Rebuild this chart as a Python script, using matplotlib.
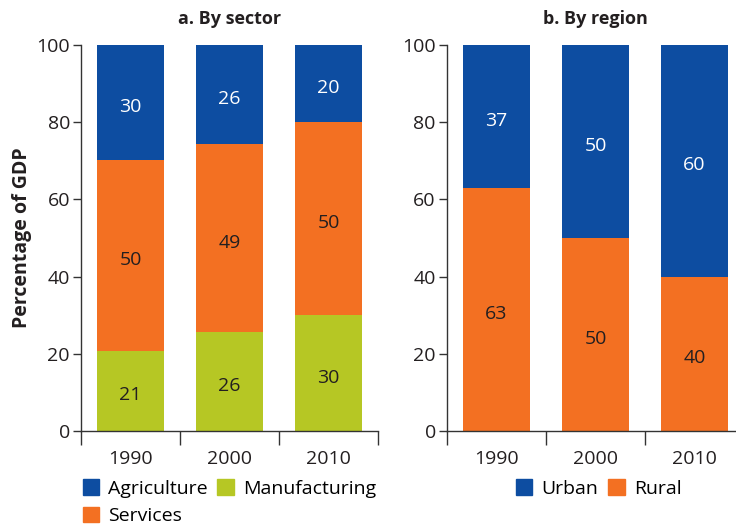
import matplotlib
matplotlib.use("Agg")
import matplotlib.pyplot as plt
import numpy as np
from matplotlib.patches import Patch

plt.rcParams['font.family'] = ['Open Sans', 'DejaVu Sans']

years = ['1990', '2000', '2010']

# a. By sector (percentage of GDP)
manufacturing = [21, 26, 30]
services = [50, 49, 50]
agriculture = [30, 26, 20]

# b. By region
rural = [63, 50, 40]
urban = [37, 50, 60]

BLUE = '#0D4DA1'
ORANGE = '#F37022'
GREEN = '#B6C724'
DARK = '#231F20'
FS = 14


def style_axes(ax, title):
    x = np.arange(len(years))
    ax.set_xlim(-0.5, len(years) - 0.5)
    ax.set_ylim(0, 100)
    ax.set_yticks([0, 20, 40, 60, 80, 100])
    ax.tick_params(axis='y', length=6, width=1, color='#333333', labelsize=FS,
                   labelcolor=DARK, pad=2)
    ax.set_xticks(x)
    ax.set_xticklabels(years)
    ax.set_xticks(np.arange(len(years) + 1) - 0.5, minor=True)
    ax.tick_params(axis='x', which='major', length=0, labelsize=FS, labelcolor=DARK, pad=14)
    ax.tick_params(axis='x', which='minor', length=10, width=1, color='#333333')
    for s in ['top', 'right']:
        ax.spines[s].set_visible(False)
    for s in ['left', 'bottom']:
        ax.spines[s].set_color('#333333')
        ax.spines[s].set_linewidth(1)
    ax.set_title(title, fontsize=13, fontweight='bold', color=DARK, pad=15)


def draw_stack(ax, series, colors, text_colors, w=0.68):
    # bars are drawn as shares of the total, labels show the published values
    data = np.array(series, dtype=float)
    shares = data / data.sum(axis=0) * 100
    bottom = np.zeros(data.shape[1])
    x = np.arange(data.shape[1])
    for vals, sh, c, tc in zip(data, shares, colors, text_colors):
        ax.bar(x, sh, w, bottom=bottom, color=c, zorder=2)
        for i in x:
            ax.text(i, bottom[i] + sh[i] / 2 - 1.2, f'{vals[i]:.0f}', ha='center',
                    va='center', fontsize=FS, color=tc)
        bottom = bottom + sh


fig = plt.figure(figsize=(7.36, 5.29), dpi=100)
ax1 = fig.add_axes([0.1101, 0.1853, 0.4035, 0.7297])
ax2 = fig.add_axes([0.6073, 0.1853, 0.4035, 0.7297])

# panel a
draw_stack(ax1, [manufacturing, services, agriculture], [GREEN, ORANGE, BLUE],
           [DARK, DARK, 'white'])
style_axes(ax1, 'a. By sector')
ax1.set_ylabel('Percentage of GDP', fontsize=14, fontweight='bold', color=DARK, labelpad=3)

handles = [Patch(color=BLUE, label='Agriculture'),
           Patch(color=ORANGE, label='Services'),
           Patch(color=GREEN, label='Manufacturing')]
ax1.legend(handles=handles, ncol=2, loc='upper left', bbox_to_anchor=(-0.02, -0.105),
           frameon=False, fontsize=FS, handlelength=0.85, handleheight=0.85,
           handletextpad=0.45, columnspacing=0.5, labelspacing=0.45, borderaxespad=0)

# panel b
draw_stack(ax2, [rural, urban], [ORANGE, BLUE], [DARK, 'white'])
style_axes(ax2, 'b. By region')

handles = [Patch(color=BLUE, label='Urban'), Patch(color=ORANGE, label='Rural')]
ax2.legend(handles=handles, ncol=2, loc='upper left', bbox_to_anchor=(0.205, -0.105),
           frameon=False, fontsize=FS, handlelength=0.85, handleheight=0.85,
           handletextpad=0.45, columnspacing=0.55, borderaxespad=0)

fig.savefig('out.png', dpi=100)
